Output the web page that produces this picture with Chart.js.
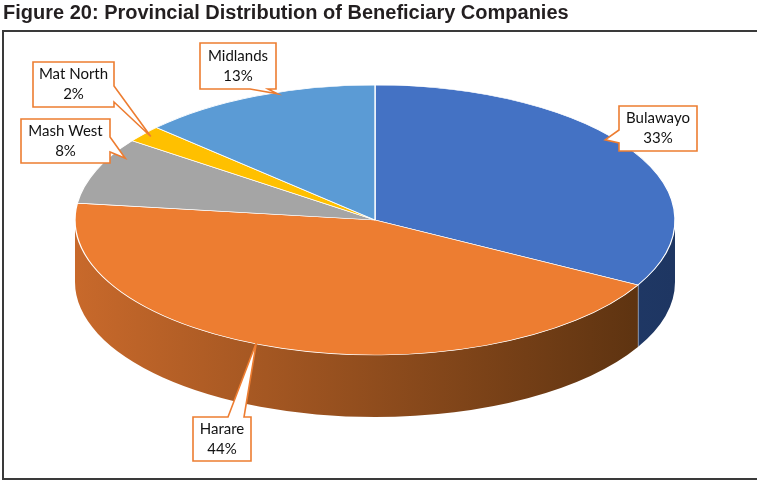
<!DOCTYPE html>
<html>
<head>
<meta charset="utf-8">
<script src="https://cdn.jsdelivr.net/npm/chart.js@4.4.1/dist/chart.umd.min.js"></script>
<style>
  html, body { margin: 0; padding: 0; background: #fff; }
  #wrap { width: 757px; height: 483px; position: relative; }
</style>
</head>
<body>
<div id="wrap"><canvas id="pie-chart" width="757" height="483"></canvas></div>
<script>
var provinces = ["Bulawayo", "Harare", "Mash West", "Mat North", "Midlands"];
var shares = [33, 44, 8, 2, 13];
var sliceColors = ["#4472C4", "#ED7D31", "#A5A5A5", "#FFC000", "#5B9BD5"];
// side wall shades, left -> right
var sideShades = [["#2A4A85", "#1E3662"], ["#C8692B", "#57300F"], ["#8A8A8A", "#5A5A5A"], ["#D9A300", "#8A6800"], ["#4A82B8", "#2E5480"]];

// where the tilted pie sits on the page
var tilt = { cx: 375, cy: 220, rx: 300, ry: 135, depth: 62 };

// callout boxes: box rect, which side the pointer leaves from, pointer base, and where it lands on the slice
var callouts = [
  { box: [619, 106, 78, 45], side: "left", base: [130, 143], pos: 0.44, r: 0.97 },
  { box: [193, 417, 58, 44], side: "top", base: [228, 244], pos: 0.535, r: 0.99 },
  { box: [21, 119, 89, 44], side: "right", base: [137, 152], pos: 0.75, r: 0.95 },
  { box: [33, 62, 81, 45], side: "right", base: [86, 102], pos: 0.5, r: 0.97 },
  { box: [200, 43, 76, 46], side: "bottom", base: [250, 268], pos: 0.59, r: 0.99 }
];

function onTop(angle, frac) {
  return { x: tilt.cx + tilt.rx * frac * Math.cos(angle), y: tilt.cy + tilt.ry * frac * Math.sin(angle) };
}

function drawCallout(ctx, c, tip) {
  var x0 = c.box[0], y0 = c.box[1], x1 = x0 + c.box[2], y1 = y0 + c.box[3];
  var b1 = c.base[0], b2 = c.base[1];
  ctx.beginPath();
  ctx.moveTo(x0, y0);
  if (c.side === "top") { ctx.lineTo(b1, y0); ctx.lineTo(tip.x, tip.y); ctx.lineTo(b2, y0); }
  ctx.lineTo(x1, y0);
  if (c.side === "right") { ctx.lineTo(x1, b1); ctx.lineTo(tip.x, tip.y); ctx.lineTo(x1, b2); }
  ctx.lineTo(x1, y1);
  if (c.side === "bottom") { ctx.lineTo(b2, y1); ctx.lineTo(tip.x, tip.y); ctx.lineTo(b1, y1); }
  ctx.lineTo(x0, y1);
  if (c.side === "left") { ctx.lineTo(x0, b2); ctx.lineTo(tip.x, tip.y); ctx.lineTo(x0, b1); }
  ctx.closePath();
  ctx.fillStyle = "#fff";
  ctx.fill();
  ctx.lineWidth = 1.6;
  ctx.strokeStyle = "#ED7D31";
  ctx.lineJoin = "miter";
  ctx.stroke();
}

var frame = {
  id: "frame",
  beforeDraw: function(chart) {
    var ctx = chart.ctx;
    ctx.save();
    ctx.fillStyle = "#fff";
    ctx.fillRect(0, 0, chart.width, chart.height);
    ctx.strokeStyle = "#3a3a3a";
    ctx.lineWidth = 2;
    ctx.strokeRect(3, 31, chart.width + 10, 448);
    ctx.restore();
  }
};

var pie3d = {
  id: "pie3d",
  beforeDatasetsDraw: function(chart) {
    var ctx = chart.ctx;
    var arcs = chart.getDatasetMeta(0).data;
    ctx.save();
    arcs.forEach(function(arc, i) {
      var a0 = Math.max(arc.startAngle, 0), a1 = Math.min(arc.endAngle, Math.PI);
      if (a1 <= a0) return;
      var g = ctx.createLinearGradient(tilt.cx - tilt.rx, 0, tilt.cx + tilt.rx, 0);
      g.addColorStop(0, sideShades[i][0]);
      g.addColorStop(1, sideShades[i][1]);
      ctx.beginPath();
      ctx.ellipse(tilt.cx, tilt.cy, tilt.rx, tilt.ry, 0, a0, a1);
      ctx.ellipse(tilt.cx, tilt.cy + tilt.depth, tilt.rx, tilt.ry, 0, a1, a0, true);
      ctx.closePath();
      ctx.fillStyle = g;
      ctx.fill();
      // seam where two side walls meet
      if (a1 < Math.PI) {
        var p = onTop(a1, 1);
        ctx.beginPath();
        ctx.moveTo(p.x, p.y);
        ctx.lineTo(p.x, p.y + tilt.depth);
        ctx.strokeStyle = "#fff";
        ctx.lineWidth = 1;
        ctx.stroke();
      }
    });
    ctx.restore();
    // squash the flat pie into the tilted top face
    var arc = arcs[0];
    ctx.save();
    ctx.translate(tilt.cx, tilt.cy);
    ctx.scale(tilt.rx / arc.outerRadius, tilt.ry / arc.outerRadius);
    ctx.translate(-arc.x, -arc.y);
  },
  afterDatasetsDraw: function(chart) {
    var ctx = chart.ctx;
    ctx.restore();
    var arcs = chart.getDatasetMeta(0).data;
    var total = shares.reduce(function(a, b) { return a + b; }, 0);
    ctx.save();
    arcs.forEach(function(arc, i) {
      var c = callouts[i];
      var ang = arc.startAngle + (arc.endAngle - arc.startAngle) * c.pos;
      drawCallout(ctx, c, onTop(ang, c.r));
      var mx = c.box[0] + c.box[2] / 2, my = c.box[1] + c.box[3] / 2;
      ctx.fillStyle = "#111";
      ctx.font = "15px Lato";
      ctx.textAlign = "center";
      ctx.textBaseline = "middle";
      ctx.fillText(provinces[i], mx, my - 10);
      ctx.fillText(Math.round(shares[i] / total * 100) + "%", mx, my + 10);
    });
    ctx.restore();
  }
};

new Chart(document.getElementById("pie-chart"), {
  type: "pie",
  data: {
    labels: provinces,
    datasets: [
      {
        label: "Beneficiary companies",
        data: shares,
        backgroundColor: sliceColors,
        borderColor: "#ffffff",
        borderWidth: 1
      }
    ]
  },
  options: {
    responsive: false,
    animation: false,
    layout: { padding: { left: 3 } },
    plugins: {
      legend: { display: false },
      tooltip: { enabled: false },
      title: {
        display: true,
        text: "Figure 20: Provincial Distribution of Beneficiary Companies",
        align: "start",
        color: "#231f20",
        font: { family: "Liberation Sans", size: 20, weight: "bold" },
        padding: { top: 1, bottom: 10 }
      }
    }
  },
  plugins: [frame, pie3d]
});
</script>
</body>
</html>
